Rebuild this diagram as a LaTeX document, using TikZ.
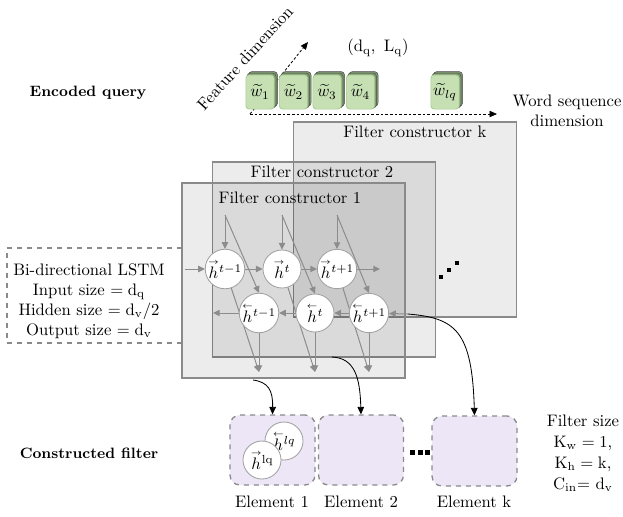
\documentclass[tikz,border=0pt]{standalone}
\usepackage{amsmath}
\usetikzlibrary{arrows.meta}
\definecolor{cubefront}{HTML}{C6E0B4}
\definecolor{cubeline}{HTML}{A3C98B}
\definecolor{cubeback}{HTML}{7F9A70}
\definecolor{lav}{HTML}{ECE6F6}
\definecolor{edgegray}{HTML}{8A8A8A}
\definecolor{arrowgray}{HTML}{8C8C8C}
\pgfdeclarelayer{back}\pgfdeclarelayer{mid}\pgfsetlayers{back,mid,main}
\newcommand\hfw[1]{\overset{\scriptscriptstyle\rightarrow}{h}{}^{#1}}
\newcommand\hbw[1]{\overset{\scriptscriptstyle\leftarrow}{h}{}^{#1}}
\begin{document}
\begin{tikzpicture}[x=0.6pt,y=-0.6pt,
  every node/.style={inner sep=0pt},
  frame/.style={draw=edgegray, line width=0.7pt, fill=black, fill opacity=0.075,
    minimum width=133.8pt, minimum height=117pt},
  lstm/.style={circle, draw=edgegray!80, fill=white, line width=0.5pt, minimum size=22.8pt},
  garrow/.style={draw=arrowgray, line width=0.6pt, -{Triangle[length=4pt,width=3.8pt]}},
  blk/.style={draw=black, line width=0.5pt, -{Triangle[length=4.5pt,width=4pt]}},
  dsh/.style={draw=black, line width=0.5pt, dash pattern=on 1.6pt off 1.2pt, -{Triangle[length=4.5pt,width=3.8pt]}},
  dbox/.style={draw=edgegray, dashed, line width=0.8pt},
  elem/.style={dbox, fill=lav, rounded corners=6pt, minimum width=51pt, minimum height=42pt},
  wcube/.style={rounded corners=2pt, fill=cubefront, draw=cubeline, line width=0.4pt,
    minimum width=17pt, minimum height=20.5pt},
  cubeedge/.style={rounded corners=2pt, fill=cubeback, draw=black!70, line width=0.3pt},
  bold/.style={font=\fontsize{9}{11}\selectfont\bfseries}]
\useasboundingbox (0,0) rectangle (623,516);

% filter constructors
\begin{pgfonlayer}{back}
\node[frame] (conk) at (405,219.5) {};
\node[frame] (con2) at (324,259.5) {};
\node[frame] (con1) at (293.5,280.5) {};
\end{pgfonlayer}
\node (lk) at (415,132) {Filter constructor k};
\node (l2) at (322,172) {Filter constructor 2};
\node (l1) at (290,198) {Filter constructor 1};

% LSTM cells
\node[lstm] (f1) at (225,269) {$\hfw{t-1}$};
\node[lstm] (f2) at (282,269) {$\hfw{t}$};
\node[lstm] (f3) at (337,269) {$\hfw{t+1}$};
\node[lstm] (b1) at (259,313) {$\hbw{t-1}$};
\node[lstm] (b2) at (315,313) {$\hbw{t}$};
\node[lstm] (b3) at (369,313) {$\hbw{t+1}$};

\coordinate (fin) at (185,269);
\coordinate (fout) at (380,269);
\coordinate (bin) at (408,314);
\coordinate (bout) at (213,313);
\coordinate (s1) at (225,215);
\coordinate (s2) at (282,215);
\coordinate (s3) at (337,215);
\coordinate (t1) at (259,372);
\coordinate (t2) at (315,372);
\coordinate (t3) at (369,372);

% left LSTM description
\node[dbox, minimum width=105pt, minimum height=57pt] (lstmbox) at (94.5,295.5) {};
\node[align=center] (lstmtext) at (89,301) {Bi-directional LSTM\\Input size $=\mathrm{d_q}$\\Hidden size $=\mathrm{d_v}/2$\\Output size $=\mathrm{d_v}$};

% dots in constructor k
\fill (439,275) rectangle ++(4,4);
\fill (447,268) rectangle ++(4,4);
\fill (455,261) rectangle ++(4,4);

% elements
\node[elem] (e1) at (272.5,450) {};
\node[elem] (e2) at (361,450) {};
\node[elem] (ek) at (474.5,451) {};
\node[lstm] (hbl) at (284,441) {$\hbw{lq}$};
\node[lstm] (hfl) at (262,460) {$\hfw{\mathrm{lq}}$};
\fill (410,450) rectangle ++(5,5);
\fill (417.5,450) rectangle ++(5,5);
\fill (425,450) rectangle ++(5,5);
\node (el1) at (272,502) {Element 1};
\node (el2) at (361,502) {Element 2};
\node (elk) at (474,502) {Element k};

% word cubes
\coordinate (o) at (250,114);
\coordinate (featend) at (308,42);
\coordinate (seqend) at (497,114);
\node[wcube] (w1) at (260,92) {$\widetilde{w}_1$};
\node[wcube] (w2) at (293.5,92) {$\widetilde{w}_2$};
\node[wcube] (w3) at (327,92) {$\widetilde{w}_3$};
\node[wcube] (w4) at (360.5,92) {$\widetilde{w}_4$};
\node[wcube] (wlq) at (445,92) {$\widetilde{w}_{lq}$};

\node[rotate=48] (feat) at (245,58) {Feature dimension};
\node (dq) at (378,48) {$(\mathrm{d_q},\ \mathrm{L_q})$};
\node[align=center] (wsd) at (567,111) {Word sequence\\dimension};
\node[bold] (eq) at (88,93) {Encoded query};
\node[bold] (cf) at (89,453) {Constructed filter};
\node[align=center, font=\fontsize{10}{12.6}\selectfont] (fs) at (583,453) {Filter size\\K$_{\mathrm{w}}=1$,\\K$_{\mathrm{h}}=\mathrm{k}$,\\C$_{\mathrm{in}}$= d$_{\mathrm{v}}$};

\begin{pgfonlayer}{mid}
\draw[dsh] (o) -- (featend);
\draw[dsh] (o) -- (seqend);
\foreach \w in {w1,w2,w3,w4,wlq}{
  \draw[cubeedge] ([shift={(3,-3)}]\w.south west) rectangle ([shift={(3,-3)}]\w.north east);
  \draw[cubeedge] ([shift={(1.5,-1.5)}]\w.south west) rectangle ([shift={(1.5,-1.5)}]\w.north east);
}
\draw[garrow] (fin) -- (f1);
\draw[garrow] (f1) -- (f2);
\draw[garrow] (f2) -- (f3);
\draw[garrow] (f3) -- (fout);
\draw[garrow] (bin) -- (b3);
\draw[garrow] (b3) -- (b2);
\draw[garrow] (b2) -- (b1);
\draw[garrow] (b1) -- (bout);
\draw[garrow] (s1) -- (f1);
\draw[garrow] (s2) -- (f2);
\draw[garrow] (s3) -- (f3);
\draw[garrow] (s1) -- (b1.north);
\draw[garrow] (s2) -- (b2.north);
\draw[garrow] (s3) -- (b3.north);
\draw[garrow] (b1) -- (t1);
\draw[garrow] (b2) -- (t2);
\draw[garrow] (b3) -- (t3);
\draw[garrow] (f1) -- (t1);
\draw[garrow] (f2) -- (t2);
\draw[garrow] (f3) -- (t3);
\coordinate (c1s) at (253,380);
\coordinate (c2s) at (332,357);
\draw[blk] (c1s) .. controls (268,382) and (273,390) .. (e1.north);
\draw[blk] (c2s) .. controls (355,358) and (360,378) .. (e2.north);
\draw[blk] (bin) .. controls (455,318) and (472,330) .. (ek.north);
\end{pgfonlayer}
\end{tikzpicture}
\end{document}
